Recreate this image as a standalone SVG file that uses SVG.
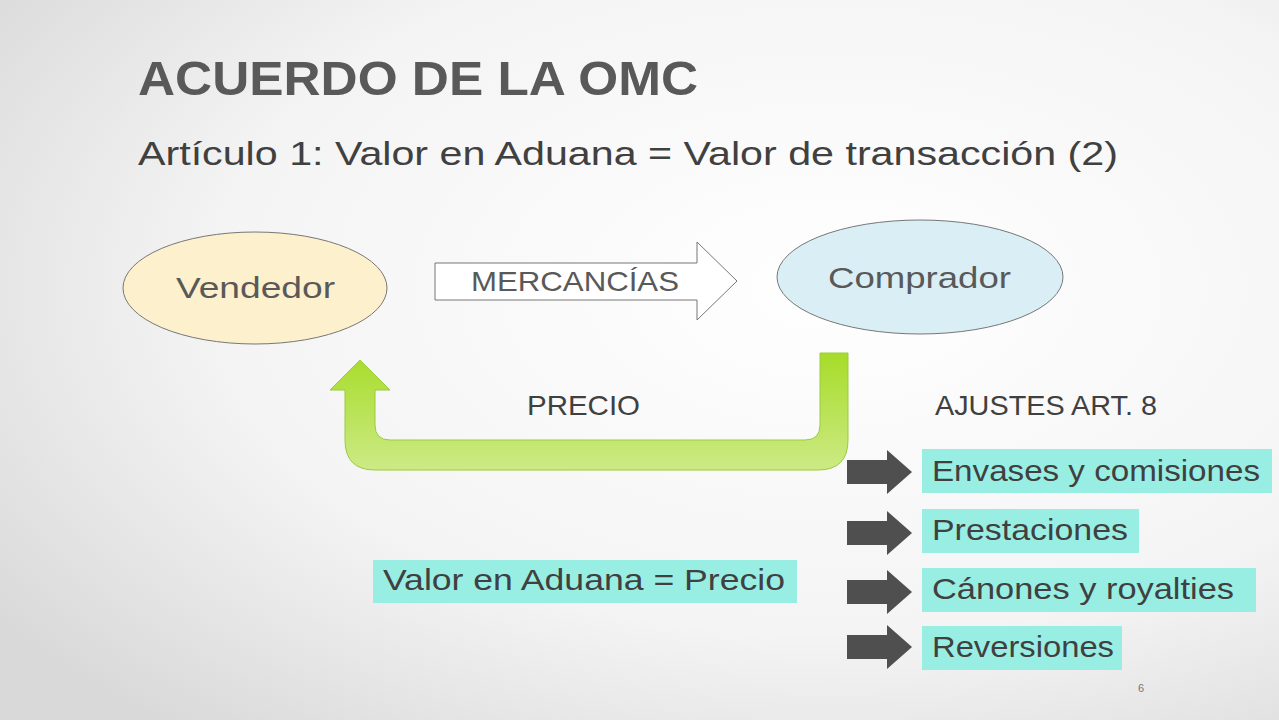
<svg xmlns="http://www.w3.org/2000/svg" width="1279" height="720" viewBox="0 0 1279 720">
<defs>
<radialGradient id="bg" cx="0.65" cy="0.4" r="0.8"><stop offset="0" stop-color="#ffffff"/><stop offset="0.6" stop-color="#f4f4f4"/><stop offset="1" stop-color="#d9d9d9"/></radialGradient>
<linearGradient id="gr" x1="0" y1="0" x2="0" y2="1"><stop offset="0" stop-color="#a6dc28"/><stop offset="1" stop-color="#cdea86"/></linearGradient>
<path id="da" d="M0,10 H40 V0 L65,22 L40,44 V34 H0 Z" fill="#4f4f4f"/>
</defs>
<style>
text{font-family:"Liberation Sans",Arial,sans-serif;}
.t{fill:#404040;font-size:30px}
.box{fill:#99eee4}
</style>
<rect width="1279" height="720" fill="url(#bg)"/>
<text x="138" y="95" font-size="48" font-weight="bold" fill="#595959" textLength="560" lengthAdjust="spacingAndGlyphs">ACUERDO DE LA OMC</text>
<text x="138" y="165" font-size="34" fill="#404040" textLength="980" lengthAdjust="spacingAndGlyphs">Artículo 1: Valor en Aduana = Valor de transacción (2)</text>
<g id="vendedor"><ellipse cx="255" cy="288" rx="132" ry="56" fill="#fdf0cc" stroke="#777"/><text x="176" y="298" font-size="30" fill="#595959" textLength="159" lengthAdjust="spacingAndGlyphs">Vendedor</text></g>
<g id="comprador"><ellipse cx="920" cy="277" rx="143" ry="57" fill="#d9eff5" stroke="#777"/><text x="828" y="288" font-size="30" fill="#595959" textLength="183" lengthAdjust="spacingAndGlyphs">Comprador</text></g>
<g id="connectors">
<path d="M435,263 H697 V242 L737,281 L697,320 V300 H435 Z" fill="#fff" stroke="#777"/>
<text x="471" y="291" font-size="28" fill="#595959" textLength="208" lengthAdjust="spacingAndGlyphs">MERCANCÍAS</text>
<path d="M820,353 H848 V440 Q848,470 818,470 H375 Q345,470 345,440 V390 H330 L360,360 L390,390 H375 V425 Q375,440 390,440 H805 Q820,440 820,425 Z" fill="url(#gr)" stroke="#9acb3c"/>
<use href="#da" x="847" y="450"/>
<use href="#da" x="847" y="511"/>
<use href="#da" x="847" y="570"/>
<use href="#da" x="847" y="625"/>
</g>
<text x="527" y="415" font-size="28" fill="#404040" textLength="113" lengthAdjust="spacingAndGlyphs">PRECIO</text>
<text x="935" y="415" font-size="28" fill="#404040" textLength="222" lengthAdjust="spacingAndGlyphs">AJUSTES ART. 8</text>
<g id="b1"><rect class="box" x="922" y="449" width="350" height="44"/><text class="t" x="932" y="481" textLength="328" lengthAdjust="spacingAndGlyphs">Envases y comisiones</text></g>
<g id="b2"><rect class="box" x="922" y="509" width="217" height="44"/><text class="t" x="932" y="540" textLength="196" lengthAdjust="spacingAndGlyphs">Prestaciones</text></g>
<g id="b3"><rect class="box" x="922" y="568" width="334" height="44"/><text class="t" x="932" y="599" textLength="302" lengthAdjust="spacingAndGlyphs">Cánones y royalties</text></g>
<g id="b4"><rect class="box" x="922" y="626" width="200" height="44"/><text class="t" x="932" y="657" textLength="182" lengthAdjust="spacingAndGlyphs">Reversiones</text></g>
<g id="va"><rect class="box" x="373" y="560" width="424" height="43"/><text class="t" x="383" y="590" textLength="402" lengthAdjust="spacingAndGlyphs">Valor en Aduana = Precio</text></g>
<text x="1138" y="692" font-size="11" fill="#777">6</text>
</svg>
